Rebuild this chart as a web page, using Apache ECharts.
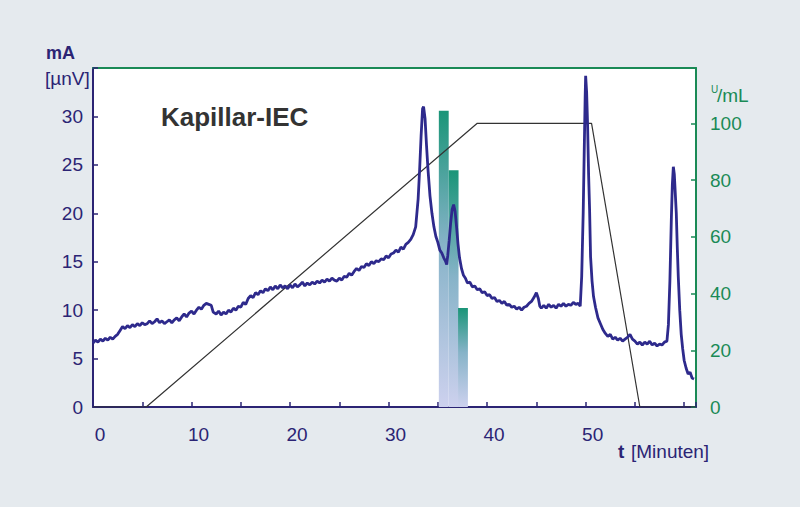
<!DOCTYPE html>
<html>
<head>
<meta charset="utf-8">
<script src="https://cdn.jsdelivr.net/npm/echarts@6/dist/echarts.min.js"></script>
<style>
  html, body { margin: 0; padding: 0; background: #e5eaee; }
  #chart { width: 800px; height: 507px; }
</style>
</head>
<body>
<div id="chart"></div>
<script>
// Detektorsignal [t in min, mA]
var signal = [
  [0,6.6],[0.25,6.9],[0.5,6.7],[0.75,7.0],[1,6.8],[1.25,7.1],[1.5,6.9],[1.75,7.2],[2,7.0],[2.25,7.3],
  [2.5,7.5],[2.75,7.9],[3,8.3],[3.25,8.1],[3.5,8.4],[3.75,8.2],[4,8.5],[4.25,8.3],[4.5,8.6],[4.75,8.4],
  [5,8.7],[5.25,8.5],[5.5,8.6],[5.75,8.9],[6,8.6],[6.25,8.8],[6.5,9.1],[6.75,8.7],[7,8.9],[7.25,8.6],
  [7.5,8.8],[7.75,9.0],[8,8.7],[8.25,9.0],[8.5,9.2],[8.75,8.9],[9,9.3],[9.25,9.6],[9.5,9.3],[9.75,9.7],
  [10,9.9],[10.25,9.6],[10.5,10.0],[10.75,10.3],[11,10.1],[11.25,10.5],[11.5,10.7],[11.75,10.6],[12,10.5],[12.2,9.8],
  [12.5,9.6],[12.75,9.9],[13,9.5],[13.25,9.8],[13.5,9.6],[13.75,10.0],[14,9.8],[14.25,10.2],[14.5,10.0],[14.75,10.4],
  [15,10.3],[15.25,10.8],[15.5,10.6],[15.75,11.2],[16,11.5],[16.25,11.3],[16.5,11.8],[16.75,11.6],[17,12.0],[17.25,11.8],
  [17.5,12.2],[17.75,12.0],[18,12.4],[18.25,12.1],[18.5,12.5],[18.75,12.2],[19,12.6],[19.25,12.3],[19.5,12.5],[19.75,12.2],
  [20,12.6],[20.25,12.3],[20.5,12.7],[20.75,12.4],[21,12.6],[21.25,12.9],[21.5,12.5],[21.75,12.8],[22,12.6],[22.25,12.9],
  [22.5,12.7],[22.75,13.0],[23,12.8],[23.25,13.1],[23.5,12.9],[23.75,13.2],[24,13.0],[24.25,13.3],[24.5,13.1],[24.75,13.0],
  [25,13.3],[25.25,13.1],[25.5,13.5],[25.75,13.4],[26,13.8],[26.25,13.6],[26.5,14.0],[26.75,14.3],[27,14.1],[27.25,14.5],
  [27.5,14.4],[27.75,14.8],[28,14.6],[28.25,15.0],[28.5,14.8],[28.75,15.1],[29,15.0],[29.25,15.3],[29.5,15.2],[29.75,15.6],
  [30,15.4],[30.25,15.8],[30.5,15.9],[30.75,16.2],[31,16.0],[31.25,16.5],[31.5,16.3],[31.75,16.8],[32,17.0],[32.25,17.3],
  [32.5,17.8],[32.75,18.6],[33,21.5],[33.15,24.5],[33.3,28.0],[33.45,30.8],[33.55,31.0],[33.7,29.8],[33.85,27.0],[34,24.5],
  [34.2,21.8],[34.4,20.0],[34.6,18.6],[34.8,17.6],[35,17.0],[35.2,16.2],[35.4,15.9],[35.6,15.4],[35.8,15.0],[35.9,14.7],
  [36,15.6],[36.15,17.2],[36.3,19.0],[36.45,20.4],[36.6,20.9],[36.75,20.2],[36.9,18.6],[37.05,16.8],[37.2,15.4],[37.4,14.3],
  [37.6,13.6],[37.8,13.3],[38,12.8],[38.25,12.9],[38.5,12.4],[38.75,12.5],[39,12.1],[39.25,12.2],[39.5,11.8],[39.75,11.9],
  [40,11.5],[40.25,11.6],[40.5,11.2],[40.75,11.3],[41,10.9],[41.25,11.0],[41.5,10.7],[41.75,10.9],[42,10.5],[42.25,10.6],
  [42.5,10.3],[42.75,10.4],[43,10.1],[43.25,10.3],[43.5,10.0],[43.75,10.3],[44,10.4],[44.25,10.7],[44.5,10.9],[44.75,11.3],
  [45,11.8],[45.2,11.2],[45.35,10.4],[45.5,10.2],[45.75,10.5],[46,10.2],[46.25,10.6],[46.5,10.3],[46.75,10.5],[47,10.2],
  [47.25,10.6],[47.5,10.4],[47.75,10.7],[48,10.4],[48.25,10.6],[48.5,10.5],[48.75,10.8],[49,10.6],[49.25,10.7],[49.45,10.4],
  [49.6,13.5],[49.75,20.0],[49.85,26.0],[49.95,32.0],[50.0,34.2],[50.1,32.5],[50.2,29.0],[50.3,24.0],[50.4,20.4],[50.5,15.5],
  [50.65,13.0],[50.8,11.4],[51,10.3],[51.25,9.2],[51.5,8.6],[51.75,8.0],[52,7.6],[52.25,7.3],[52.5,7.5],[52.75,7.0],
  [53,7.2],[53.25,6.9],[53.5,7.1],[53.75,6.8],[54,7.0],[54.25,7.2],[54.5,7.5],[54.75,7.0],[55,6.8],[55.25,6.5],
  [55.5,6.7],[55.75,6.4],[56,6.7],[56.25,6.5],[56.5,6.8],[56.75,6.4],[57,6.6],[57.25,6.3],[57.5,6.5],[57.75,6.4],
  [58,6.7],[58.25,6.8],[58.4,8.5],[58.55,13.0],[58.7,19.5],[58.8,23.0],[58.9,24.8],[59.0,24.0],[59.1,22.0],[59.2,20.0],
  [59.3,16.5],[59.4,13.5],[59.55,10.0],[59.7,7.5],[59.85,6.0],[60,4.8],[60.2,4.0],[60.4,3.4],[60.6,3.6],[60.8,3.0],
  [61.0,2.9]
];

// Gradient (rechte Achse)
var gradient = [[0,0],[5.4,0],[39,100],[50.6,100],[55.5,0],[61.2,0]];

// Fraktionen: Mitte in min, Aktivitaet U/mL
var fractionTime = [35.6, 36.6, 37.55];
var fractionActivity = [104.4, 83.5, 34.9];
var fractionWidth = 1.0;

// Achsenbeschriftung x
var xLabels = [0, 10, 20, 30, 40, 50];

var navy = '#2b2474';
var green = '#1a8a56';
var fontFam = '"Liberation Sans", Arial, sans-serif';

var chart = echarts.init(document.getElementById('chart'), null, {renderer: 'svg'});

var barData = [];
for (var i = 0; i < fractionTime.length; i++) {
  barData.push([fractionTime[i], fractionActivity[i]]);
}

chart.setOption({
  backgroundColor: '#e5eaee',
  animation: false,
  textStyle: { fontFamily: fontFam },
  grid: {
    left: 93, right: 104, top: 68, bottom: 100,
    show: true, backgroundColor: '#ffffff', borderWidth: 0
  },
  xAxis: [
    {
      type: 'value', min: 0, max: 61.2, interval: 5,
      axisLine: { onZero: false, lineStyle: { color: navy, width: 2 } },
      axisTick: { inside: true, length: 5, lineStyle: { color: navy, width: 1.5 } },
      axisLabel: {
        color: navy, fontSize: 19, margin: 18, padding: [0, 0, 0, 14],
        formatter: function (v) { return xLabels.indexOf(v) >= 0 ? String(v) : ''; }
      },
      splitLine: { show: false }
    },
    {
      type: 'value', position: 'top', min: 0, max: 61.2,
      axisLine: { onZero: false, lineStyle: { color: green, width: 2 } },
      axisTick: { show: false }, axisLabel: { show: false }, splitLine: { show: false }
    }
  ],
  yAxis: [
    {
      type: 'value', min: 0, max: 35, interval: 5, position: 'left',
      axisLine: { show: true, onZero: false, lineStyle: { color: navy, width: 2 } },
      axisTick: { show: true, inside: true, length: 5, lineStyle: { color: navy, width: 1.5 } },
      axisLabel: {
        color: navy, fontSize: 19, margin: 10, padding: [6, 0, 0, 0],
        formatter: function (v) { return v === 35 ? '' : String(v); }
      },
      splitLine: { show: false }
    },
    {
      type: 'value', min: 0, max: 119.5, interval: 20, position: 'right',
      axisLine: { show: true, onZero: false, lineStyle: { color: green, width: 2 } },
      axisTick: { show: true, inside: true, length: 5, lineStyle: { color: green, width: 1.5 } },
      axisLabel: {
        color: green, fontSize: 19, margin: 14, padding: [6, 0, 0, 0],
        formatter: function (v) { return (v % 20 === 0) ? String(v) : ''; }
      },
      splitLine: { show: false }
    }
  ],
  series: [
    {
      type: 'custom',
      yAxisIndex: 1,
      z: 1,
      data: barData,
      renderItem: function (params, api) {
        var t = api.value(0);
        var top = api.coord([t - fractionWidth / 2, api.value(1)]);
        var bottom = api.coord([t + fractionWidth / 2, 0]);
        return {
          type: 'rect',
          shape: { x: top[0], y: top[1], width: bottom[0] - top[0], height: bottom[1] - top[1] },
          style: {
            fill: new echarts.graphic.LinearGradient(0, 0, 0, 1, [
              { offset: 0, color: '#1a9578' },
              { offset: 0.45, color: '#86b3c8' },
              { offset: 1, color: '#cdd1ee' }
            ])
          }
        };
      }
    },
    {
      type: 'line',
      yAxisIndex: 1,
      z: 2,
      data: gradient,
      showSymbol: false,
      lineStyle: { color: '#333333', width: 1.2 }
    },
    {
      type: 'line',
      yAxisIndex: 0,
      z: 3,
      data: signal,
      showSymbol: false,
      lineStyle: { color: '#2e2a8c', width: 2.8 }
    }
  ],
  graphic: [
    { type: 'text', left: 161, top: 104, style: { text: 'Kapillar-IEC', fontSize: 26, fontWeight: 'bold', fill: '#333333', fontFamily: fontFam } },
    { type: 'text', left: 46, top: 44, style: { text: 'mA', fontSize: 18, fontWeight: 'bold', fill: navy, fontFamily: fontFam } },
    { type: 'text', left: 45, top: 69, style: { text: '[µnV]', fontSize: 19, fill: navy, fontFamily: fontFam } },
    { type: 'text', left: 711, top: 84, style: { text: 'U', fontSize: 10, fill: green, fontFamily: fontFam } },
    { type: 'text', left: 717, top: 86, style: { text: '/mL', fontSize: 19, fill: green, fontFamily: fontFam } },
    { type: 'text', left: 618, top: 442, style: { text: 't', fontSize: 19, fontWeight: 'bold', fill: navy, fontFamily: fontFam } },
    { type: 'text', left: 631, top: 442, style: { text: '[Minuten]', fontSize: 19, fill: navy, fontFamily: fontFam } }
  ]
});
</script>
</body>
</html>
